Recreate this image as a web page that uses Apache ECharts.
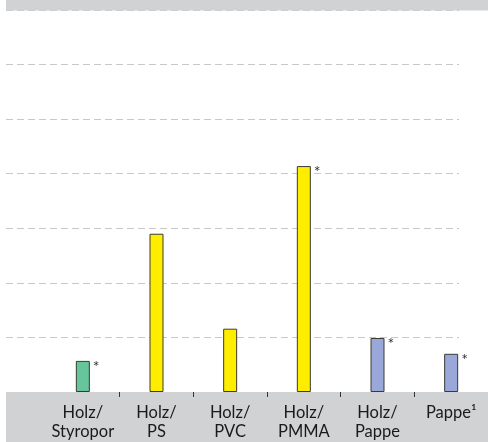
<!DOCTYPE html>
<html>
<head>
<meta charset="utf-8">
<script src="https://cdn.jsdelivr.net/npm/echarts@6/dist/echarts.min.js"></script>
<style>
  html, body { margin: 0; padding: 0; background: #fff; }
  #chart { width: 488px; height: 442px; }
</style>
</head>
<body>
<div id="chart"></div>
<script>
// materials on the x axis
const categories = ['Holz/\nStyropor', 'Holz/\nPS', 'Holz/\nPVC', 'Holz/\nPMMA', 'Holz/\nPappe', 'Pappe¹']
// bar heights (axis has no labels, 0..7 units)
const values = [0.57, 2.9, 1.16, 4.14, 0.99, 0.70]
// footnote marks next to the bars
const marks = ['*', '', '', '*', '*', '*']

const barColors = ['#66c59b', '#ffed00', '#ffed00', '#ffed00', '#9aa8d9', '#9aa8d9']
const bandColor = '#d1d2d4'

let chart = echarts.init(document.getElementById('chart'))

let option = {
  animation: false,
  textStyle: { fontFamily: 'Lato' },
  graphic: [
    // grey band on top
    { type: 'rect', z: 1, shape: { x: 6, y: 0, width: 482, height: 10.5 }, style: { fill: bandColor } },
    // grey band under the axis
    { type: 'rect', z: 1, shape: { x: 6, y: 392, width: 482, height: 50 }, style: { fill: bandColor } }
  ],
  grid: [
    { left: 6, width: 453, top: 10, bottom: 50 },
    { left: 46, width: 450, top: 10, bottom: 50 }
  ],
  xAxis: [
    { gridIndex: 0, type: 'value', show: false },
    {
      gridIndex: 1,
      type: 'category',
      data: categories,
      z: 5,
      axisLine: { show: false },
      axisTick: {
        show: true,
        length: 5,
        interval: function (index) { return index !== 0 },
        lineStyle: { color: '#333', width: 1 }
      },
      axisLabel: {
        color: '#1a1a1a',
        fontSize: 16.5,
        lineHeight: 19,
        margin: 11,
        interval: 0
      }
    }
  ],
  yAxis: [
    {
      gridIndex: 0,
      type: 'value',
      min: 0,
      max: 7,
      interval: 1,
      z: 0,
      axisLine: { show: false },
      axisTick: { show: false },
      axisLabel: { show: false },
      splitLine: {
        show: true,
        lineStyle: { color: '#c8c8c8', width: 1, type: [7, 4] }
      }
    },
    { gridIndex: 1, type: 'value', min: 0, max: 7, show: false }
  ],
  series: [
    {
      type: 'bar',
      xAxisIndex: 1,
      yAxisIndex: 1,
      barWidth: 14,
      z: 3,
      itemStyle: {
        color: function (p) { return barColors[p.dataIndex] },
        borderColor: '#3a3a32',
        borderWidth: 1
      },
      label: {
        show: true,
        position: ['100%', 0],
        offset: [3, 6],
        align: 'left',
        verticalAlign: 'middle',
        fontSize: 16,
        color: '#333',
        formatter: function (p) { return marks[p.dataIndex] }
      },
      data: values
    }
  ]
}
chart.setOption(option)
</script>
</body>
</html>
